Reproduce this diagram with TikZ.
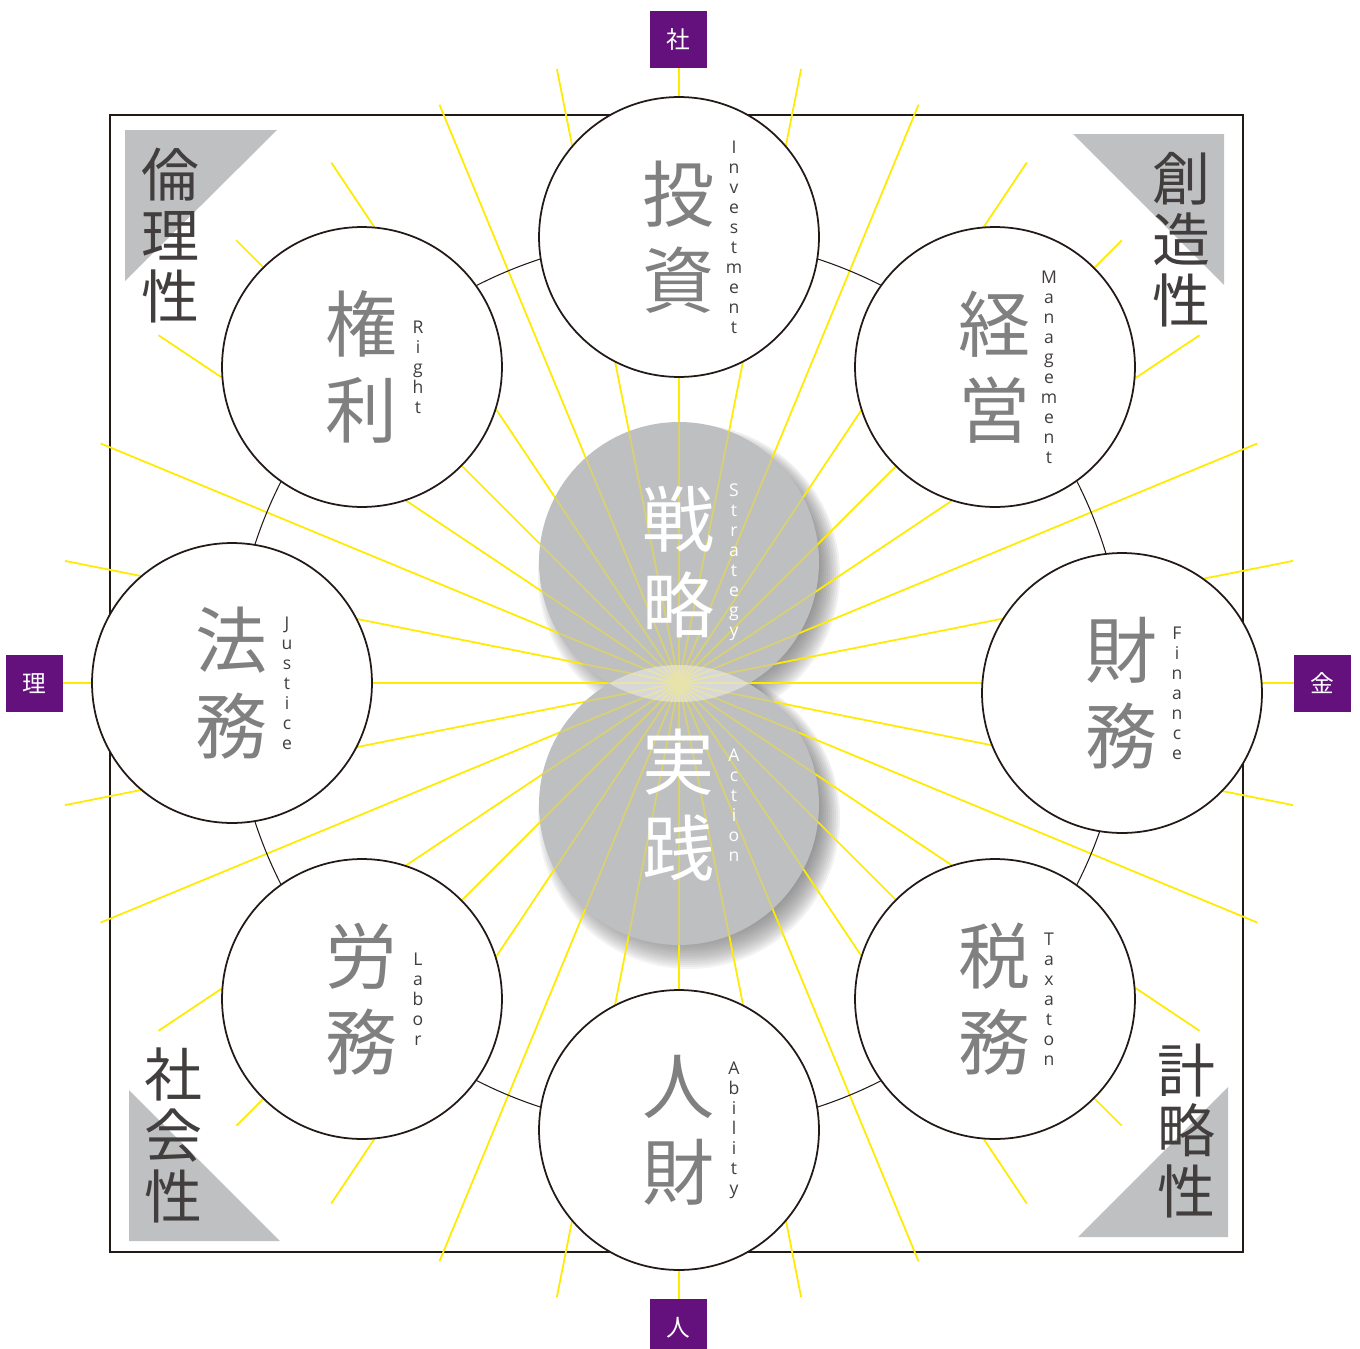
\documentclass[tikz,border=0pt]{standalone}
\usepackage{fontspec}
\setmainfont{Noto Sans CJK JP}
\newfontfamily\latinfont{Open Sans}
\usepackage{tikz}
\usetikzlibrary{positioning, calc}
\definecolor{raycol}{RGB}{255,235,0}
\definecolor{discgray}{RGB}{190,191,193}
\definecolor{cornergray}{RGB}{191,192,194}
\definecolor{axispurple}{RGB}{100,16,125}
\definecolor{inkgray}{RGB}{128,128,128}
\definecolor{darkink}{RGB}{66,62,62}
\definecolor{frameline}{RGB}{35,25,22}
\definecolor{shade}{RGB}{60,48,48}
\tikzstyle{field} = [circle, 
minimum size=5.6cm, 
inner sep=0pt, 
draw=frameline, 
line width=1pt, 
fill=white]
\tikzstyle{core} = [circle, 
minimum size=5.6cm, 
inner sep=0pt, 
fill=discgray]
\tikzstyle{kanji} = [text=inkgray, 
align=center, 
inner sep=0pt, 
font=\fontsize{41}{48.9}\selectfont]
\tikzstyle{english} = [text=darkink, 
align=center, 
inner sep=0pt, 
font=\latinfont\fontsize{10}{11.4}\selectfont]
\tikzstyle{corner} = [text=darkink, 
align=center, 
inner sep=0pt, 
font=\fontsize{33}{34.7}\selectfont]
\tikzstyle{axis} = [rectangle, 
minimum size=1.14cm, 
inner sep=0pt, 
fill=axispurple, 
text=white, 
font=\fontsize{13.5}{14}\selectfont]
\tikzstyle{ray} = [raycol, line width=1pt]
\begin{document}
\begin{tikzpicture}[x=0.02cm, y=-0.02cm]

\useasboundingbox (0,0) rectangle (1360,1349);

\draw [frameline, line width=1.1pt] (110,115) rectangle (1243,1252);

\fill [cornergray] (125,130) -- (277,130) -- (125,281) -- cycle;
\fill [cornergray] (1073,134) -- (1224,134) -- (1224,285) -- cycle;
\fill [cornergray] (129,1090) -- (129,1241) -- (280,1241) -- cycle;
\fill [cornergray] (1078,1237) -- (1228,1237) -- (1228,1087) -- cycle;

\node (ethics) [corner] at (170,236) {倫\\理\\性};
\node (creative) [corner] at (1181,240) {創\\造\\性};
\node (social) [corner] at (173,1135) {社\\会\\性};
\node (tactic) [corner] at (1186,1131) {計\\略\\性};

\coordinate (hub) at (679,683);

\foreach \r in {151,149,...,123}
  \fill [shade, opacity=0.045] ($(679,562)+(10,13)$) circle (\r);
\foreach \r in {151,149,...,123}
  \fill [shade, opacity=0.045] ($(679,805)+(10,13)$) circle (\r);

\foreach \a in {0,11.25,...,348.75}
  \draw [ray] (hub) -- ++(\a:626);

\draw [frameline, line width=0.6pt] (hub) circle (446);

\node (invest) [field] at (679,237) {};
\node (manage) [field] at (995,367) {};
\node (finance) [field] at (1122,693) {};
\node (tax) [field] at (995,999) {};
\node (ability) [field] at (679,1130) {};
\node (labor) [field] at (362,999) {};
\node (justice) [field] at (232,683) {};
\node (right) [field] at (362,367) {};

\node (strat) [core] at (679,562) {};
\node (act) [core] at (679,805) {};

\begin{scope}
\clip (679,562) circle (140) (679,805) circle (140);
\foreach \a in {0,11.25,...,348.75}
  \draw [ray, draw=raycol!40!discgray] (hub) -- ++(\a:300);
\end{scope}

\begin{scope}
\clip (679,562) circle (140);
\fill [white, opacity=0.4] (679,805) circle (140);
\end{scope}

\node (invest-jp) [kanji] at (invest) {投\\資};
\node (invest-en) [english, right=1.1cm of invest.center, anchor=center] {I\\n\\v\\e\\s\\t\\m\\e\\n\\t};

\node (manage-jp) [kanji] at (manage) {経\\営};
\node (manage-en) [english, right=1.08cm of manage.center, anchor=center] {M\\a\\n\\a\\g\\e\\m\\e\\n\\t};

\node (finance-jp) [kanji] at (finance) {財\\務};
\node (finance-en) [english, right=1.1cm of finance.center, anchor=center] {F\\i\\n\\a\\n\\c\\e};

\node (tax-jp) [kanji] at (tax) {税\\務};
\node (tax-en) [english, right=1.08cm of tax.center, anchor=center] {T\\a\\x\\a\\t\\o\\n};

\node (ability-jp) [kanji] at (ability) {人\\財};
\node (ability-en) [english, right=1.1cm of ability.center, anchor=center] {A\\b\\i\\l\\i\\t\\y};

\node (labor-jp) [kanji] at (labor) {労\\務};
\node (labor-en) [english, right=1.12cm of labor.center, anchor=center] {L\\a\\b\\o\\r};

\node (justice-jp) [kanji] at (justice) {法\\務};
\node (justice-en) [english, right=1.1cm of justice.center, anchor=center] {J\\u\\s\\t\\i\\c\\e};

\node (right-jp) [kanji] at (right) {権\\利};
\node (right-en) [english, right=1.12cm of right.center, anchor=center] {R\\i\\g\\h\\t};

\node (strat-jp) [kanji, text=white] at (strat) {戦\\略};
\node (strat-en) [english, text=white, right=1.1cm of strat.center, anchor=center] {S\\t\\r\\a\\t\\e\\g\\y};

\node (act-jp) [kanji, text=white] at (act) {実\\践};
\node (act-en) [english, text=white, right=1.1cm of act.center, anchor=center] {A\\c\\t\\i\\o\\n};

\node (top) [axis] at (678.5,39.5) {社};
\node (left) [axis] at (34.5,683.5) {理};
\node (rightbox) [axis] at (1322.5,683.5) {金};
\node (bottom) [axis] at (678.5,1327.5) {人};

\end{tikzpicture}
\end{document}
